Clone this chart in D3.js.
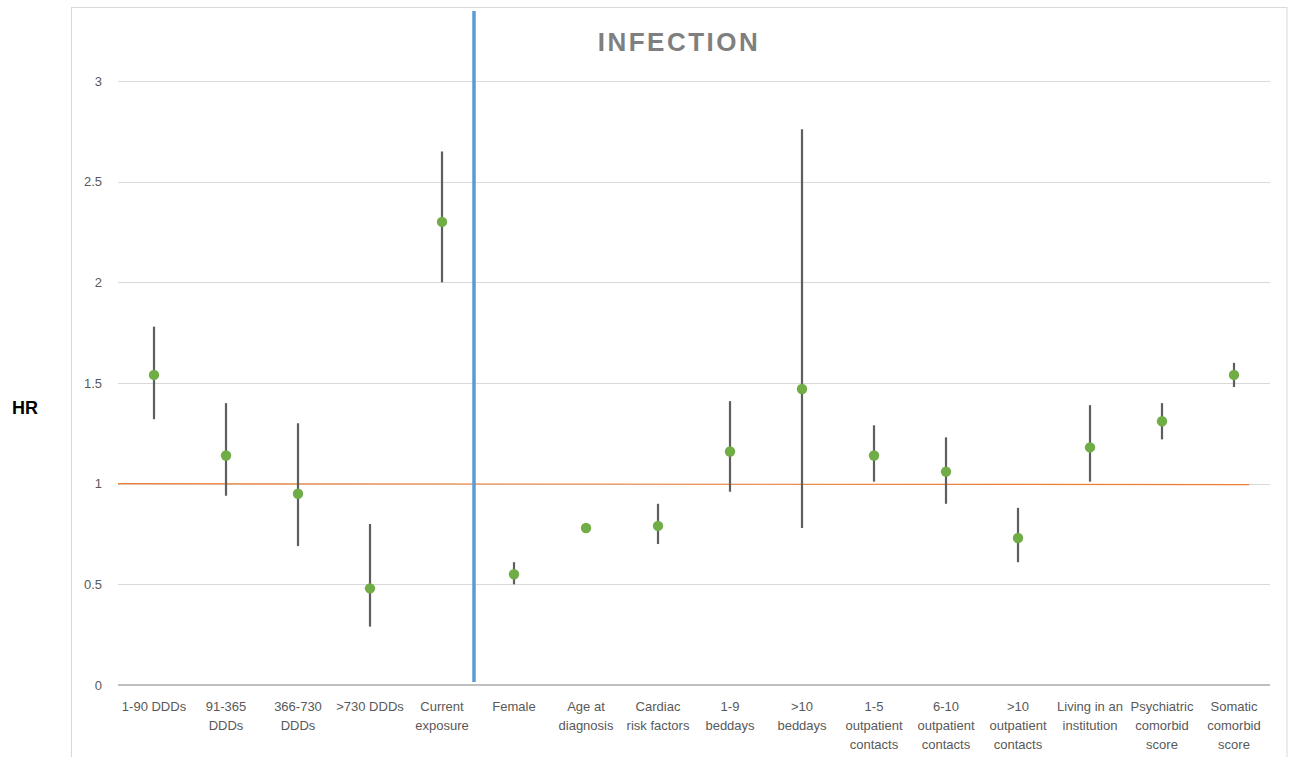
<!DOCTYPE html>
<html>
<head>
<meta charset="utf-8">
<script src="https://cdn.jsdelivr.net/npm/d3@7"></script>
<style>
  body { margin: 0; background: #fff; }
  text { font-family: "Liberation Sans", Arial, sans-serif; }
</style>
</head>
<body>
<div id="chart"></div>
<script>
"use strict";

// === DATA ===
const categories = [
  "1-90 DDDs", "91-365|DDDs", "366-730|DDDs", ">730 DDDs", "Current|exposure",
  "Female", "Age at|diagnosis", "Cardiac|risk factors", "1-9|beddays", ">10|beddays",
  "1-5|outpatient|contacts", "6-10|outpatient|contacts", ">10|outpatient|contacts",
  "Living in an|institution", "Psychiatric|comorbid|score", "Somatic|comorbid|score"
];
const hr    = [1.54, 1.14, 0.95, 0.48, 2.30, 0.55, 0.78, 0.79, 1.16, 1.47, 1.14, 1.06, 0.73, 1.18, 1.31, 1.54];
const lower = [1.32, 0.94, 0.69, 0.29, 2.00, 0.50, 0.78, 0.70, 0.96, 0.78, 1.01, 0.90, 0.61, 1.01, 1.22, 1.48];
const upper = [1.78, 1.40, 1.30, 0.80, 2.65, 0.61, 0.78, 0.90, 1.41, 2.76, 1.29, 1.23, 0.88, 1.39, 1.40, 1.60];
const yTicks = [0, 0.5, 1, 1.5, 2, 2.5, 3];

// === SVG SETUP ===
const width = 1290, height = 757;
const plot = { left: 118, right: 1270, top: 81, bottom: 685 };

const svg = d3.select("#chart")
  .append("svg")
  .attr("width", width)
  .attr("height", height);

// chart frame
svg.append("rect")
  .attr("x", 71.5).attr("y", 7.5)
  .attr("width", 1287 - 71.5).attr("height", 800)
  .attr("fill", "none")
  .attr("stroke", "#d9d9d9");

// === SCALES ===
const x = d3.scaleBand()
  .domain(categories)
  .range([plot.left, plot.right]);

const y = d3.scaleLinear()
  .domain([0, 3])
  .range([plot.bottom, plot.top]);

// === GRIDLINES ===
svg.append("g")
  .selectAll("line")
  .data(yTicks.filter(d => d > 0))
  .enter()
  .append("line")
  .attr("x1", plot.left).attr("x2", plot.right)
  .attr("y1", d => Math.round(y(d)) + 0.5)
  .attr("y2", d => Math.round(y(d)) + 0.5)
  .attr("stroke", "#d9d9d9");

// === Y AXIS ===
const yAxis = d3.axisLeft(y).tickValues(yTicks).tickSize(0).tickPadding(0)
  .tickFormat(d => d);
const gy = svg.append("g")
  .attr("transform", `translate(${plot.left - 16}, 0)`)
  .call(yAxis);
gy.select(".domain").remove();
gy.selectAll("text")
  .attr("font-family", "Liberation Sans, Arial, sans-serif")
  .attr("font-size", "13px")
  .attr("fill", "#595959");

svg.append("text")
  .attr("x", 25)
  .attr("y", 414)
  .attr("text-anchor", "middle")
  .attr("font-size", "18px")
  .attr("font-weight", "bold")
  .attr("fill", "#000")
  .text("HR");

// === X AXIS ===
svg.append("line")
  .attr("x1", plot.left).attr("x2", plot.right)
  .attr("y1", plot.bottom).attr("y2", plot.bottom)
  .attr("stroke", "#bfbfbf")
  .attr("stroke-width", 2);

const xLabels = svg.append("g")
  .selectAll("text")
  .data(categories)
  .enter()
  .append("text")
  .attr("x", d => x(d) + x.bandwidth() / 2)
  .attr("y", 711)
  .attr("text-anchor", "middle")
  .attr("font-size", "13px")
  .attr("fill", "#595959");

xLabels.selectAll("tspan")
  .data(d => d.split("|"))
  .enter()
  .append("tspan")
  .attr("x", function () { return d3.select(this.parentNode).attr("x"); })
  .attr("dy", (d, i) => i === 0 ? 0 : 19)
  .text(d => d);

// === REFERENCE LINE HR = 1 ===
svg.append("line")
  .attr("x1", plot.left).attr("x2", 1249)
  .attr("y1", y(1)).attr("y2", y(1) + 1)
  .attr("stroke", "#ed7d31")
  .attr("stroke-width", 1.2);

// === DIVIDER (between exposure and covariates) ===
const divX = x(categories[5]) - 4;
svg.append("line")
  .attr("x1", divX).attr("x2", divX)
  .attr("y1", 11).attr("y2", plot.bottom - 3)
  .attr("stroke", "#5b9bd5")
  .attr("stroke-width", 3.5);

// === ERROR BARS + POINTS ===
const idx = d3.range(categories.length);

svg.append("g")
  .selectAll("line")
  .data(idx)
  .enter()
  .append("line")
  .attr("x1", i => x(categories[i]) + x.bandwidth() / 2)
  .attr("x2", i => x(categories[i]) + x.bandwidth() / 2)
  .attr("y1", i => y(lower[i]))
  .attr("y2", i => y(upper[i]))
  .attr("stroke", "#5e5e5e")
  .attr("stroke-width", 2.2);

svg.append("g")
  .selectAll("circle")
  .data(idx)
  .enter()
  .append("circle")
  .attr("cx", i => x(categories[i]) + x.bandwidth() / 2)
  .attr("cy", i => y(hr[i]))
  .attr("r", 5.2)
  .attr("fill", "#70ad47");

// === TITLE ===
svg.append("text")
  .attr("x", 679)
  .attr("y", 51)
  .attr("text-anchor", "middle")
  .attr("font-family", "Open Sans, sans-serif")
  .attr("font-size", "26px")
  .attr("font-weight", "bold")
  .attr("letter-spacing", "2.5px")
  .attr("fill", "#7f7f7f")
  .text("INFECTION");
</script>
</body>
</html>
